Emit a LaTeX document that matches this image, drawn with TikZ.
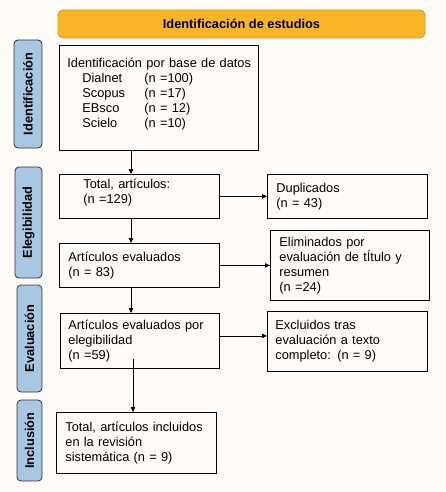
\documentclass[tikz,border=0pt]{standalone}
\usepackage{fontspec}
\setmainfont{Liberation Sans}
\usetikzlibrary{arrows.meta}
\definecolor{bgcol}{HTML}{FFFCF7}
\definecolor{headcol}{HTML}{F8B526}
\definecolor{headline}{HTML}{D49A24}
\definecolor{phasecol}{HTML}{A7C7E3}
\newcommand{\dbrow}[2]{\hspace*{15pt}\makebox[62pt][l]{#1}#2}

\begin{document}
\begin{tikzpicture}[x=1pt,y=-1pt]
\tikzstyle{every node}=[font=\fontsize{12.8}{15}\selectfont];
\tikzstyle{stage}=[draw,line width=0.8pt,anchor=north west,align=left];
\tikzstyle{phase}=[draw=black!80,line width=0.8pt,fill=phasecol,rounded corners=4pt,rotate=90,font=\fontsize{12.8}{15}\selectfont\bfseries];
\tikzstyle{flow}=[line width=0.8pt,-{Triangle[length=5pt,width=4.5pt]}];
\useasboundingbox[fill=bgcol] (0,0) rectangle (446,492);
% encabezado
\node[draw=headline,line width=0.8pt,fill=headcol,rounded corners=5pt,minimum width=367pt,minimum height=28pt,font=\fontsize{12.8}{15}\selectfont\bfseries] (head) at (241.5,24) {Identificación de estudios};
% fases
\node[phase,minimum width=108pt,minimum height=28pt] (fid) at (28,94) {Identificación};
\node[phase,minimum width=111pt,minimum height=27pt] (fel) at (28.5,222.5) {Elegibilidad};
\node[phase,minimum width=107pt,minimum height=25pt] (fev) at (29.5,338.5) {Evaluación};
\node[phase,minimum width=81pt,minimum height=25pt] (fin) at (29.5,440.5) {Inclusión};
% columna principal
\node[stage,inner xsep=8pt,text width=183pt,minimum height=105pt] (ident) at (59,45) {\mbox{Identificación por base de datos}\\
\dbrow{Dialnet}{(n =100)}\\
\dbrow{Scopus}{(n =17)}\\
\dbrow{EBsco}{(n = 12)}\\
\dbrow{Scielo}{(n =10)}\\[-4pt]\mbox{}};
\node[stage,inner xsep=24pt,text width=112pt,minimum height=44pt] (total) at (59,174) {Total, artículos:\\(n =129)\\[-4pt]\mbox{}};
\node[stage,inner xsep=9pt,text width=142pt,minimum height=44pt] (evala) at (59,243) {Artículos evaluados\\(n = 83)};
\node[stage,inner xsep=8pt,text width=143pt,minimum height=55pt] (evalb) at (60,313) {Artículos evaluados por\\elegibilidad\\(n =59)};
\node[stage,inner xsep=9pt,text width=142pt,minimum height=61pt] (incl) at (56,412) {Total, artículos incluidos\\en la revisión\\sistemática (n = 9)};
% columna derecha
\node[stage,inner xsep=9pt,text width=142pt,minimum height=44pt] (dupl) at (267,174) {Duplicados\\(n = 43)};
\node[stage,inner xsep=9pt,text width=141pt,minimum height=70pt] (elim) at (270,230) {Eliminados por\\evaluación de tÍtulo y\\resumen\\(n =24)};
\node[stage,inner xsep=8pt,text width=144pt,minimum height=60pt] (excl) at (267,311) {Excluidos tras\\evaluación a texto\\completo: (n = 9)};
% flechas
\coordinate (colx) at (131,0);
\coordinate (e1) at (133,359);
\draw[flow] (colx |- ident.south) -- (colx |- total.north);
\draw[flow] (colx |- total.south) -- (colx |- evala.north);
\draw[flow] (colx |- evala.south) -- (colx |- evalb.north);
\draw[flow] (e1) -- (e1 |- incl.north);
\draw[flow] (total.east) -- (dupl.west);
\draw[flow] (evala.east) -- (evala.east -| elim.west);
\draw[flow] ([yshift=5pt]evalb.east) -- ([yshift=5pt]evalb.east -| excl.west);
\end{tikzpicture}
\end{document}
